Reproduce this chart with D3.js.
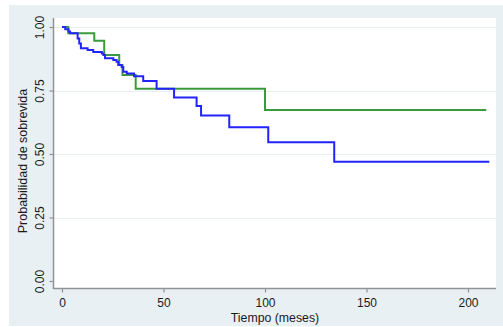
<!DOCTYPE html>
<html>
<head>
<meta charset="utf-8">
<script src="https://cdn.jsdelivr.net/npm/d3@7/dist/d3.min.js"></script>
<style>
  html, body { margin: 0; padding: 0; background: #ffffff; }
  svg { display: block; font-family: "Liberation Sans", Arial, sans-serif; }
</style>
</head>
<body>
<svg id="chart" width="503" height="327"></svg>
<script>
// Kaplan-Meier survival estimates (time in months, survival probability)
const greenTime = [0, 3.1, 15.9, 20.8, 28.2, 29.8, 36.3, 100.0];
const greenSurv = [1.0, 0.975, 0.946, 0.890, 0.850, 0.811, 0.757, 0.673];
const greenEnd = 209;

const blueTime = [0, 1.6, 3.2, 4.0, 7.7, 8.5, 9.3, 12.6, 15.4, 19.6, 20.4, 21.2, 25.3, 26.9,
                  27.7, 29.4, 30.2, 31.9, 35.5, 40.0, 46.6, 55.2, 66.3, 68.5, 82.4, 101.6, 134.1];
const blueSurv = [1.0, 0.991, 0.982, 0.975, 0.955, 0.935, 0.916, 0.909, 0.902, 0.896, 0.890, 0.877, 0.870, 0.863,
                  0.850, 0.843, 0.824, 0.817, 0.806, 0.787, 0.757, 0.722, 0.689, 0.652, 0.605, 0.546, 0.469];
const blueEnd = 210.5;

const xTicks = [0, 50, 100, 150, 200];
const yTicks = [0, 0.25, 0.5, 0.75, 1];
const gridTicks = [0.25, 0.5, 0.75, 1];

const svg = d3.select("#chart");
const W = 503, H = 327;

// plot region
const plot = { left: 54, right: 496, top: 18, bottom: 288 };

const x = d3.scaleLinear().domain([0, 200]).range([62, 468]);
const y = d3.scaleLinear().domain([0, 1]).range([281, 27]);

// backgrounds
svg.append("rect").attr("x", 0).attr("y", 0).attr("width", W).attr("height", H).attr("fill", "#ffffff");
svg.append("rect").attr("x", 9).attr("y", 5).attr("width", W - 9).attr("height", 321).attr("fill", "#e9f0f3");
svg.append("rect")
  .attr("x", plot.left).attr("y", plot.top)
  .attr("width", plot.right - plot.left).attr("height", plot.bottom - plot.top)
  .attr("fill", "#ffffff");

// gridlines
svg.append("g").selectAll("line").data(gridTicks).join("line")
  .attr("x1", plot.left).attr("x2", plot.right)
  .attr("y1", d => Math.round(y(d)) + 0.5).attr("y2", d => Math.round(y(d)) + 0.5)
  .attr("stroke", "#e6eef1").attr("stroke-width", 1.2);

const axisColor = "#8e9396";

// y axis
const yAxis = svg.append("g")
  .attr("transform", "translate(53.5,0)")
  .call(d3.axisLeft(y).tickValues(yTicks).tickSize(4).tickSizeOuter(0).tickFormat(d3.format(".2f")));
yAxis.select(".domain").remove();
yAxis.selectAll(".tick line").attr("stroke", axisColor).attr("stroke-width", 1.2);
yAxis.selectAll(".tick text")
  .attr("x", null).attr("dy", null)
  .attr("text-anchor", "middle")
  .attr("transform", "translate(-10,0) rotate(-90)")
  .attr("font-size", "12px")
  .attr("font-family", "Liberation Sans, Arial, sans-serif")
  .attr("fill", "#1a1a1a");

// x axis
const xAxis = svg.append("g")
  .attr("transform", "translate(0,288.5)")
  .call(d3.axisBottom(x).tickValues(xTicks).tickSize(4).tickPadding(6).tickSizeOuter(0));
xAxis.select(".domain").remove();
xAxis.selectAll(".tick line").attr("stroke", axisColor).attr("stroke-width", 1.2);
xAxis.selectAll(".tick text")
  .attr("font-size", "12px")
  .attr("font-family", "Liberation Sans, Arial, sans-serif")
  .attr("fill", "#1a1a1a");

// axis lines
svg.append("line").attr("x1", 53.5).attr("x2", 53.5).attr("y1", plot.top).attr("y2", 289)
  .attr("stroke", axisColor).attr("stroke-width", 1.5);
svg.append("line").attr("x1", 53).attr("x2", plot.right).attr("y1", 288.5).attr("y2", 288.5)
  .attr("stroke", axisColor).attr("stroke-width", 1.5);

// axis titles
svg.append("text")
  .attr("transform", "translate(27,161) rotate(-90)")
  .attr("text-anchor", "middle")
  .attr("font-size", "12.5px")
  .attr("fill", "#1a1a1a")
  .text("Probabilidad de sobrevida");

svg.append("text")
  .attr("x", 275).attr("y", 322)
  .attr("text-anchor", "middle")
  .attr("font-size", "12.3px")
  .attr("fill", "#1a1a1a")
  .text("Tiempo (meses)");

// survival step curves
function steps(times, surv, end) {
  const pts = times.map((t, i) => [t, surv[i]]);
  pts.push([end, surv[surv.length - 1]]);
  return pts;
}
const line = d3.line().x(d => x(d[0])).y(d => y(d[1])).curve(d3.curveStepAfter);

svg.append("path")
  .datum(steps(greenTime, greenSurv, greenEnd))
  .attr("d", line)
  .attr("fill", "none")
  .attr("stroke", "#3b9a3b")
  .attr("stroke-width", 2);

svg.append("path")
  .datum(steps(blueTime, blueSurv, blueEnd))
  .attr("d", line)
  .attr("fill", "none")
  .attr("stroke", "#2323ff")
  .attr("stroke-width", 2);
</script>
</body>
</html>
